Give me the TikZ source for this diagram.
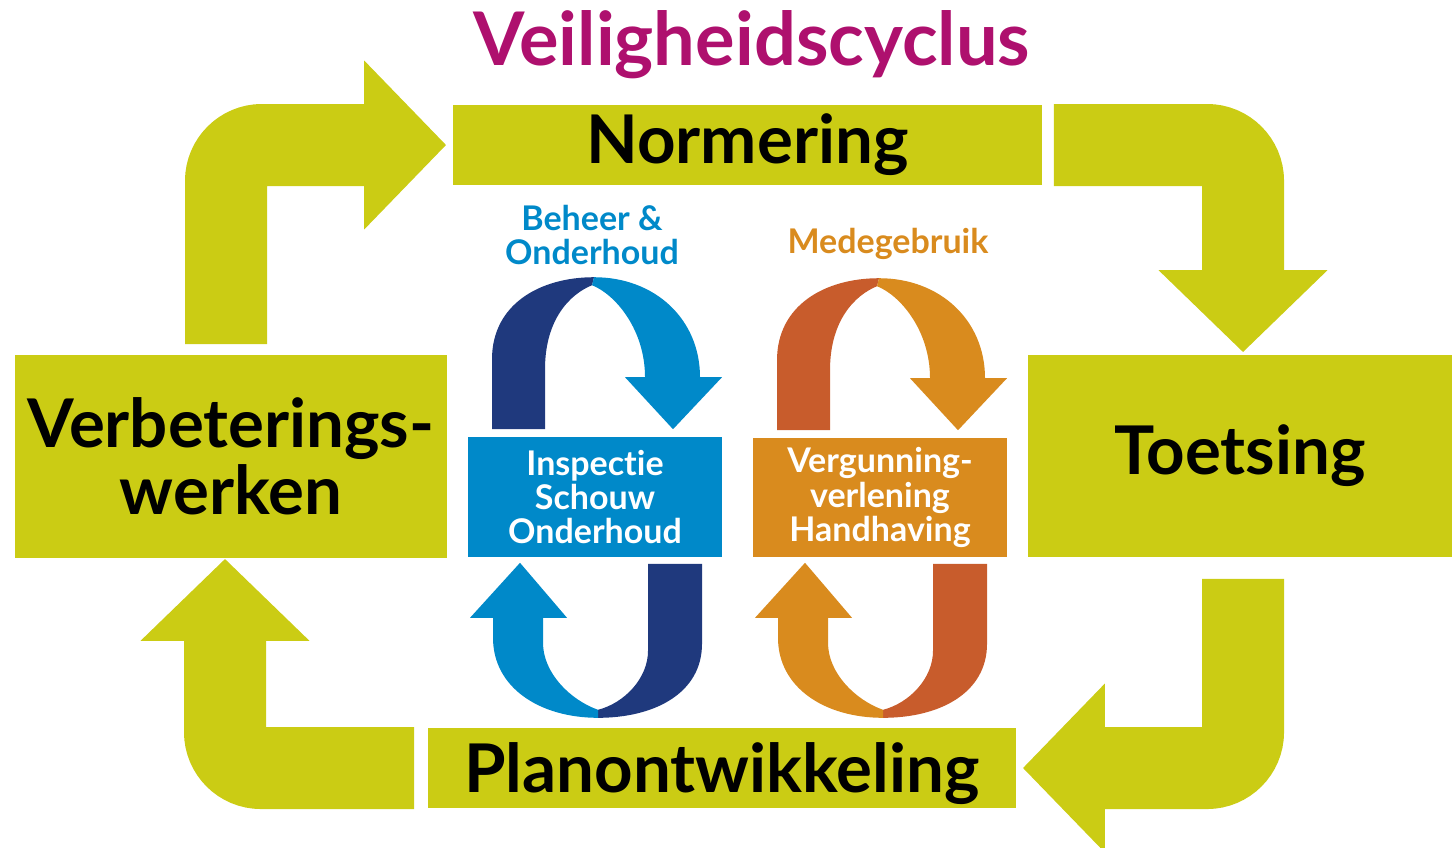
\documentclass[tikz,border=0pt]{standalone}
\usepackage{fontspec}
\setmainfont[Ligatures=NoCommon]{Lato}
\usetikzlibrary{arrows.meta}
\definecolor{cgreen}{RGB}{203,204,20}
\definecolor{ctitle}{RGB}{174,16,110}
\definecolor{bdark}{RGB}{31,57,125}
\definecolor{blight}{RGB}{0,137,201}
\definecolor{odark}{RGB}{200,92,44}
\definecolor{olight}{RGB}{217,139,30}
\begin{document}
\begin{tikzpicture}[x=0.25pt, y=-0.25pt,
    box/.style = {fill=cgreen, inner sep=0pt, align=center, font=\bfseries\fontsize{16.8}{16.8}\selectfont},
    sub/.style = {inner sep=0pt, align=center, text=white, minimum width=63.5pt, font=\bfseries\fontsize{8.5}{8.6}\selectfont},
    bigarrow/.style = {draw=cgreen, line width=20.5pt, rounded corners=9pt, -{Triangle[width=41pt,length=20.5pt]}}]
\useasboundingbox (0,0) rectangle (1452,847);
\node[anchor=base, text=ctitle, font=\bfseries\fontsize{18.5}{18.5}\selectfont] (title) at (752,65) {Veiligheidscyclus};
\node[box, minimum width=147.25pt, minimum height=20pt] (norm) at (747.5,145) {Normering};
\node[box, minimum width=106pt, minimum height=50.5pt] (toets) at (1240,456) {Toetsing};
\node[box, minimum width=108pt, minimum height=50.75pt] (verb) at (231,456.5) {Verbeterings-\\werken};
\node[box, minimum width=147pt, minimum height=20pt, text depth=0pt] (plan) at (722,768) {Planontwikkeling};
\node[sub, fill=blight, minimum height=30pt] (insp) at (595,497) {Inspectie\\Schouw\\Onderhoud};
\node[sub, fill=olight, minimum height=29.75pt] (verg) at (880,497.5) {Vergunning-\\verlening\\Handhaving};
\node[sub, text=blight] (beheer) at (592,235) {Beheer \&\\Onderhoud};
\node[sub, text=olight, anchor=base] (mede) at (888,253) {Medegebruik};
\draw[bigarrow] ([shift={(-5,-10)}]verb.north) |- ([shift={(-6,0)}]norm.west);
\draw[bigarrow] ([shift={(11,0)}]norm.east) -| ([shift={(3,-2)}]toets.north);
\draw[bigarrow] ([shift={(3,21)}]toets.south) |- ([shift={(6,0)}]plan.east);
\draw[bigarrow] ([shift={(-13,0)}]plan.west) -| ([shift={(-6,0)}]verb.south);
\foreach \n/\d/\l in {insp/bdark/blight, verg/odark/olight}{
  \begin{scope}[shift={(\n.north)}]
    \fill[\d] (-103,-7) -- (-103,-77) .. controls (-103,-132) and (-55,-159) .. (-1,-159)
      -- (-3,-151) .. controls (-25,-142) and (-50,-117) .. (-50,-67) -- (-50,-7) -- cycle;
    \fill[\l] (-1,-159) .. controls (60,-159) and (105,-117) .. (105,-59) -- (127,-59) -- (78,-7) -- (30,-59)
      -- (50,-59) .. controls (50,-107) and (20,-142) .. (-3,-151) -- cycle;
  \end{scope}
  \begin{scope}[shift={(\n.south)}]
    \fill[\d] (53,6) -- (107,6) -- (107,86) .. controls (107,135) and (60,160) .. (3,160)
      -- (3,152) .. controls (30,145) and (53,120) .. (53,93) -- cycle;
    \fill[\l] (3,160) .. controls (-55,160) and (-102,130) .. (-102,80) -- (-102,60) -- (-125,60) -- (-75,5)
      -- (-28,60) -- (-52,60) -- (-52,85) .. controls (-52,115) and (-25,142) .. (3,152) -- cycle;
  \end{scope}
}
\end{tikzpicture}
\end{document}
